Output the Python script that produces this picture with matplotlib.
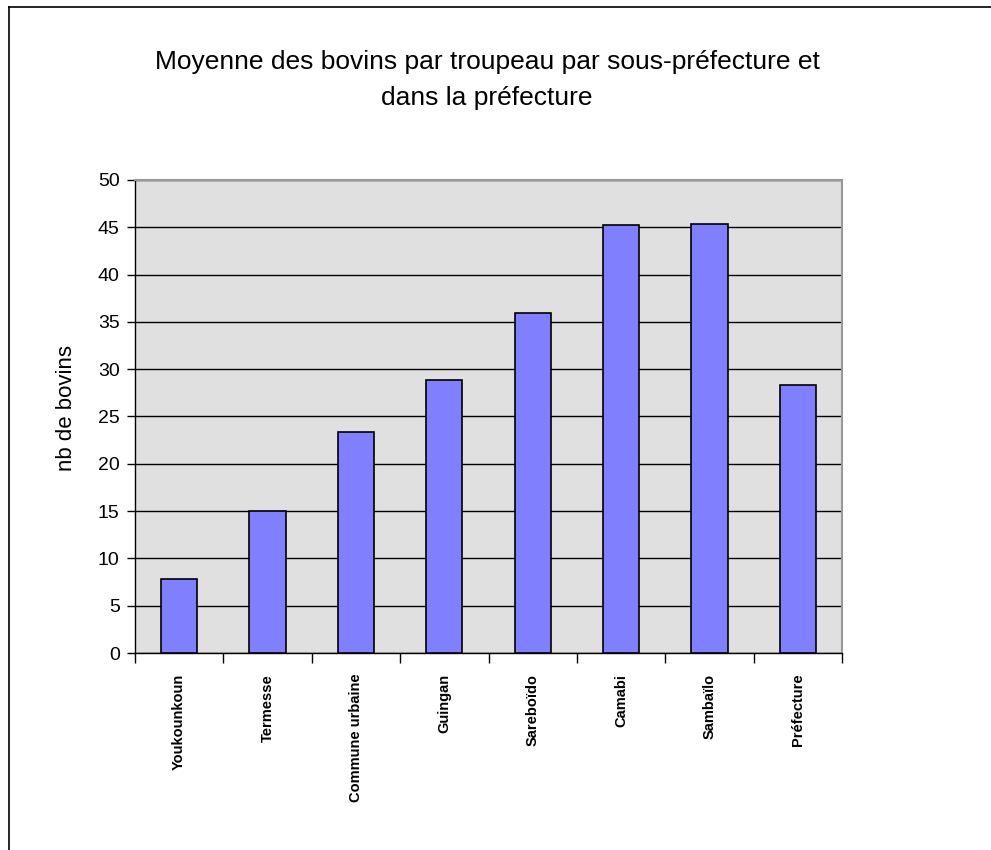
import matplotlib
matplotlib.use("Agg")
import matplotlib.pyplot as plt
from matplotlib.lines import Line2D
import numpy as np

categories = ["Youkounkoun", "Termesse", "Commune urbaine", "Guingan",
              "Sareboïdo", "Camabi", "Sambaïlo", "Préfecture"]
values = [7.8, 15.0, 23.4, 28.9, 35.9, 45.2, 45.4, 28.3]
yticks = [0, 5, 10, 15, 20, 25, 30, 35, 40, 45, 50]

plt.rcParams['font.family'] = ['Liberation Sans', 'DejaVu Sans']

fig = plt.figure(figsize=(9.91, 8.5), dpi=100)
ax = fig.add_axes([135/991, 1-653/850, (842-135)/991, (653-180)/850])
ax.set_facecolor('#e0e0e0')

x = np.arange(len(categories))
ax.bar(x, values, width=0.41, color='#8080ff', edgecolor='black', linewidth=1.2, zorder=3)

ax.set_xlim(-0.5, len(categories) - 0.5)
ax.set_ylim(0, 50)
ax.set_yticks(yticks)
ax.set_yticklabels([str(v) for v in yticks], fontsize=14)
ax.yaxis.grid(True, color='black', linewidth=1.0, zorder=1)
ax.set_axisbelow(True)

# category labels at bar centres, ticks between categories
ax.set_xticks(np.arange(-0.5, len(categories), 1.0))
ax.set_xticklabels([])
ax.tick_params(axis='x', which='major', length=7, width=1, direction='out')
ax.set_xticks(x, minor=True)
ax.set_xticklabels(categories, minor=True, rotation=90, fontsize=10.5, fontweight='bold', va='top')
ax.tick_params(axis='x', which='minor', length=0, pad=15)
ax.tick_params(axis='y', length=6, width=1, direction='out', pad=5)

for s in ['left', 'bottom']:
    ax.spines[s].set_color('black')
    ax.spines[s].set_linewidth(1.0)
for s in ['top', 'right']:
    ax.spines[s].set_color('#999999')
    ax.spines[s].set_linewidth(1.5)

ax.set_ylabel("nb de bovins", fontsize=16)
ax.yaxis.set_label_coords(-0.082, 0.518)

fig.text(487/991, 1-80/850, "Moyenne des bovins par troupeau par sous-préfecture et\ndans la préfecture",
         ha='center', va='center', fontsize=19, linespacing=1.6)

# outer frame (left and top)
fig.add_artist(Line2D([9/991, 9/991], [0, 1-7/850], color='black', linewidth=1.2, transform=fig.transFigure))
fig.add_artist(Line2D([9/991, 1], [1-7/850, 1-7/850], color='black', linewidth=1.2, transform=fig.transFigure))

fig.savefig("out.png", dpi=100)
